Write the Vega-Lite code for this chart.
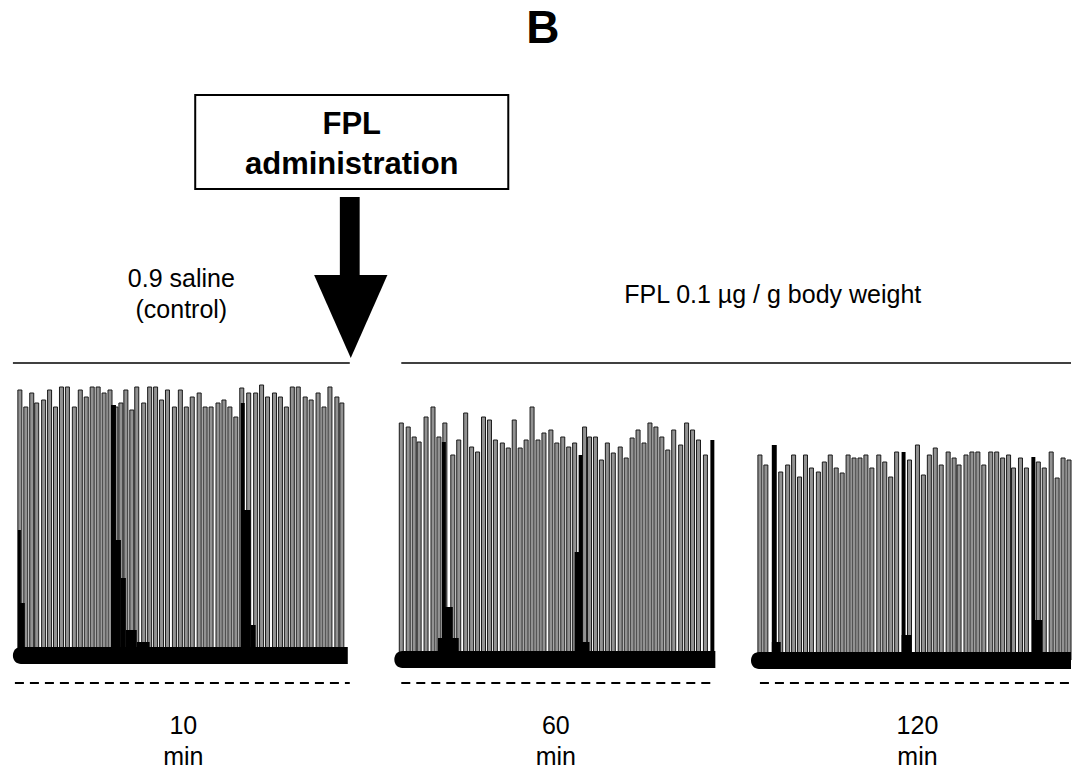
{
  "$schema": "https://vega.github.io/schema/vega-lite/v6.json",
  "autosize": {"type": "fit", "contains": "padding"},
  "width": 1076,
  "height": 772,
  "padding": 0,
  "background": "white",
  "config": {"view": {"stroke": null}, "axis": {"disable": true}},
  "datasets": {
    "spikes": [
      {"t": 15, "amp": 382}, {"t": 21, "amp": 365}, {"t": 27, "amp": 379}, {"t": 32, "amp": 369}, {"t": 39, "amp": 372},
      {"t": 45, "amp": 382}, {"t": 51, "amp": 365}, {"t": 57, "amp": 385}, {"t": 63, "amp": 385}, {"t": 70, "amp": 365},
      {"t": 76, "amp": 382}, {"t": 82, "amp": 375}, {"t": 88, "amp": 385}, {"t": 94, "amp": 385}, {"t": 100, "amp": 379},
      {"t": 106, "amp": 382}, {"t": 112, "amp": 365}, {"t": 117, "amp": 369}, {"t": 122, "amp": 382}, {"t": 128, "amp": 362},
      {"t": 133, "amp": 385}, {"t": 140, "amp": 369}, {"t": 146, "amp": 385}, {"t": 152, "amp": 385}, {"t": 158, "amp": 372},
      {"t": 164, "amp": 382}, {"t": 171, "amp": 365}, {"t": 177, "amp": 382}, {"t": 183, "amp": 365}, {"t": 189, "amp": 375},
      {"t": 196, "amp": 379}, {"t": 202, "amp": 365}, {"t": 208, "amp": 365}, {"t": 215, "amp": 369}, {"t": 221, "amp": 372},
      {"t": 227, "amp": 365}, {"t": 233, "amp": 355}, {"t": 239, "amp": 384}, {"t": 246, "amp": 379}, {"t": 253, "amp": 379},
      {"t": 259, "amp": 387}, {"t": 265, "amp": 375}, {"t": 272, "amp": 379}, {"t": 278, "amp": 375}, {"t": 284, "amp": 365},
      {"t": 290, "amp": 385}, {"t": 296, "amp": 385}, {"t": 303, "amp": 375}, {"t": 309, "amp": 372}, {"t": 316, "amp": 379},
      {"t": 322, "amp": 365}, {"t": 328, "amp": 385}, {"t": 335, "amp": 375}, {"t": 340, "amp": 369},
      {"t": 400, "amp": 349}, {"t": 407, "amp": 345}, {"t": 413, "amp": 335}, {"t": 418, "amp": 330}, {"t": 425, "amp": 355},
      {"t": 432, "amp": 365}, {"t": 438, "amp": 335}, {"t": 444, "amp": 349}, {"t": 452, "amp": 317}, {"t": 458, "amp": 332},
      {"t": 465, "amp": 359}, {"t": 471, "amp": 325}, {"t": 477, "amp": 320}, {"t": 483, "amp": 355}, {"t": 489, "amp": 352},
      {"t": 495, "amp": 332}, {"t": 502, "amp": 329}, {"t": 508, "amp": 324}, {"t": 514, "amp": 352}, {"t": 520, "amp": 324},
      {"t": 526, "amp": 332}, {"t": 532, "amp": 365}, {"t": 538, "amp": 332}, {"t": 544, "amp": 339}, {"t": 551, "amp": 342},
      {"t": 557, "amp": 329}, {"t": 563, "amp": 335}, {"t": 569, "amp": 325}, {"t": 575, "amp": 329}, {"t": 585, "amp": 345},
      {"t": 590, "amp": 335}, {"t": 596, "amp": 335}, {"t": 602, "amp": 312}, {"t": 608, "amp": 329}, {"t": 614, "amp": 319},
      {"t": 621, "amp": 325}, {"t": 627, "amp": 314}, {"t": 633, "amp": 334}, {"t": 639, "amp": 342}, {"t": 645, "amp": 329},
      {"t": 651, "amp": 349}, {"t": 657, "amp": 345}, {"t": 663, "amp": 335}, {"t": 669, "amp": 322}, {"t": 675, "amp": 342},
      {"t": 682, "amp": 327}, {"t": 688, "amp": 349}, {"t": 694, "amp": 342}, {"t": 700, "amp": 332}, {"t": 707, "amp": 317},
      {"t": 762, "amp": 317}, {"t": 768, "amp": 307}, {"t": 783, "amp": 300}, {"t": 790, "amp": 307}, {"t": 796, "amp": 317},
      {"t": 802, "amp": 295}, {"t": 808, "amp": 317}, {"t": 814, "amp": 304}, {"t": 821, "amp": 300}, {"t": 827, "amp": 310},
      {"t": 833, "amp": 317}, {"t": 839, "amp": 304}, {"t": 845, "amp": 299}, {"t": 851, "amp": 317}, {"t": 857, "amp": 314},
      {"t": 863, "amp": 314}, {"t": 869, "amp": 317}, {"t": 875, "amp": 304}, {"t": 882, "amp": 317}, {"t": 888, "amp": 310},
      {"t": 894, "amp": 295}, {"t": 900, "amp": 320}, {"t": 913, "amp": 312}, {"t": 921, "amp": 327}, {"t": 927, "amp": 297},
      {"t": 933, "amp": 317}, {"t": 939, "amp": 324}, {"t": 945, "amp": 307}, {"t": 952, "amp": 320}, {"t": 958, "amp": 314},
      {"t": 963, "amp": 307}, {"t": 970, "amp": 317}, {"t": 976, "amp": 320}, {"t": 982, "amp": 320}, {"t": 988, "amp": 307},
      {"t": 995, "amp": 320}, {"t": 1001, "amp": 320}, {"t": 1007, "amp": 314}, {"t": 1013, "amp": 317}, {"t": 1018, "amp": 304},
      {"t": 1025, "amp": 314}, {"t": 1031, "amp": 304}, {"t": 1043, "amp": 310}, {"t": 1049, "amp": 304}, {"t": 1056, "amp": 320},
      {"t": 1062, "amp": 294}, {"t": 1068, "amp": 314}, {"t": 1074, "amp": 312}
    ],
    "bursts": [
      {"t1": 13, "t2": 16, "top": 242}, {"t1": 14, "t2": 20, "top": 169},
      {"t1": 107, "t2": 112, "top": 367}, {"t1": 108, "t2": 117, "top": 232}, {"t1": 117, "t2": 122, "top": 194},
      {"t1": 122, "t2": 133, "top": 142}, {"t1": 133, "t2": 146, "top": 130},
      {"t1": 238, "t2": 242, "top": 369}, {"t1": 240, "t2": 248, "top": 262}, {"t1": 248, "t2": 253, "top": 147},
      {"t1": 441, "t2": 445, "top": 330}, {"t1": 443, "t2": 452, "top": 165}, {"t1": 437, "t2": 458, "top": 134},
      {"t1": 579, "t2": 583, "top": 317}, {"t1": 575, "t2": 582, "top": 220}, {"t1": 577, "t2": 590, "top": 130},
      {"t1": 712, "t2": 716, "top": 332},
      {"t1": 774, "t2": 779, "top": 327}, {"t1": 774, "t2": 783, "top": 130},
      {"t1": 905, "t2": 909, "top": 320}, {"t1": 905, "t2": 915, "top": 137},
      {"t1": 1036, "t2": 1040, "top": 315}, {"t1": 1037, "t2": 1047, "top": 152}
    ],
    "bases": [
      {"t1": 8, "t2": 346, "lo": 108, "hi": 125},
      {"t1": 393, "t2": 717, "lo": 104, "hi": 121},
      {"t1": 753, "t2": 1076, "lo": 103, "hi": 120}
    ],
    "solid": [
      {"t1": 8, "t2": 348, "y": 409},
      {"t1": 400, "t2": 1076, "y": 409}
    ],
    "dashed": [
      {"t1": 10, "t2": 348, "y": 89},
      {"t1": 400, "t2": 712, "y": 89},
      {"t1": 762, "t2": 1076, "y": 89}
    ],
    "labels": [
      {"text": "0.9 saline", "t": 178, "y": 485},
      {"text": "(control)", "t": 178, "y": 454},
      {"text": "FPL 0.1 µg / g body weight", "t": 775, "y": 469},
      {"text": "10", "t": 180, "y": 38},
      {"text": "min", "t": 180, "y": 7},
      {"text": "60", "t": 556, "y": 38},
      {"text": "min", "t": 556, "y": 7},
      {"text": "120", "t": 921, "y": 38},
      {"text": "min", "t": 921, "y": 7}
    ],
    "boxtext": [
      {"text": "FPL", "t": 350, "y": 638},
      {"text": "administration", "t": 350, "y": 598}
    ],
    "title": [{"text": "B", "t": 543, "y": 729}],
    "box": [{"t1": 192, "t2": 508, "lo": 583, "hi": 677}],
    "shaft": [{"t1": 338, "t2": 358, "lo": 496, "hi": 575}],
    "head": [
      {"t": 312, "top": 497, "bottom": 497},
      {"t": 349, "top": 497, "bottom": 414},
      {"t": 386, "top": 497, "bottom": 497}
    ]
  },
  "layer": [
    {
      "data": {"name": "spikes"},
      "mark": {"type": "bar", "size": 4, "fill": "#929292", "stroke": "#1a1a1a", "strokeWidth": 1},
      "encoding": {
        "x": {"field": "t", "type": "quantitative", "scale": {"domain": [0, 1076], "nice": false, "zero": false}},
        "y": {"field": "amp", "type": "quantitative", "scale": {"domain": [0, 772], "nice": false, "zero": false}},
        "y2": {"datum": 112}
      }
    },
    {
      "data": {"name": "bursts"},
      "mark": {"type": "rect", "color": "black"},
      "encoding": {
        "x": {"field": "t1", "type": "quantitative"},
        "x2": {"field": "t2"},
        "y": {"field": "top", "type": "quantitative"},
        "y2": {"datum": 112}
      }
    },
    {
      "data": {"name": "bases"},
      "mark": {"type": "rect", "color": "black", "cornerRadiusTopLeft": 8, "cornerRadiusBottomLeft": 8},
      "encoding": {
        "x": {"field": "t1", "type": "quantitative"},
        "x2": {"field": "t2"},
        "y": {"field": "lo", "type": "quantitative"},
        "y2": {"field": "hi"}
      }
    },
    {
      "data": {"name": "solid"},
      "mark": {"type": "rule", "color": "black", "strokeWidth": 1.5},
      "encoding": {
        "x": {"field": "t1", "type": "quantitative"},
        "x2": {"field": "t2"},
        "y": {"field": "y", "type": "quantitative"}
      }
    },
    {
      "data": {"name": "dashed"},
      "mark": {"type": "rule", "color": "black", "strokeWidth": 2, "strokeDash": [9, 6]},
      "encoding": {
        "x": {"field": "t1", "type": "quantitative"},
        "x2": {"field": "t2"},
        "y": {"field": "y", "type": "quantitative"}
      }
    },
    {
      "data": {"name": "labels"},
      "mark": {"type": "text", "font": "Liberation Sans", "fontSize": 25, "color": "black", "align": "center", "baseline": "alphabetic"},
      "encoding": {
        "x": {"field": "t", "type": "quantitative"},
        "y": {"field": "y", "type": "quantitative"},
        "text": {"field": "text"}
      }
    },
    {
      "data": {"name": "box"},
      "mark": {"type": "rect", "fill": "white", "stroke": "black", "strokeWidth": 2},
      "encoding": {
        "x": {"field": "t1", "type": "quantitative"},
        "x2": {"field": "t2"},
        "y": {"field": "lo", "type": "quantitative"},
        "y2": {"field": "hi"}
      }
    },
    {
      "data": {"name": "boxtext"},
      "mark": {"type": "text", "font": "Liberation Sans", "fontSize": 31, "fontWeight": "bold", "color": "black", "align": "center", "baseline": "alphabetic"},
      "encoding": {
        "x": {"field": "t", "type": "quantitative"},
        "y": {"field": "y", "type": "quantitative"},
        "text": {"field": "text"}
      }
    },
    {
      "data": {"name": "title"},
      "mark": {"type": "text", "font": "Liberation Sans", "fontSize": 46, "fontWeight": "bold", "color": "black", "align": "center", "baseline": "alphabetic"},
      "encoding": {
        "x": {"field": "t", "type": "quantitative"},
        "y": {"field": "y", "type": "quantitative"},
        "text": {"field": "text"}
      }
    },
    {
      "data": {"name": "shaft"},
      "mark": {"type": "rect", "color": "black"},
      "encoding": {
        "x": {"field": "t1", "type": "quantitative"},
        "x2": {"field": "t2"},
        "y": {"field": "lo", "type": "quantitative"},
        "y2": {"field": "hi"}
      }
    },
    {
      "data": {"name": "head"},
      "mark": {"type": "area", "color": "black", "orient": "vertical", "interpolate": "linear"},
      "encoding": {
        "x": {"field": "t", "type": "quantitative"},
        "y": {"field": "top", "type": "quantitative"},
        "y2": {"field": "bottom"}
      }
    }
  ]
}
